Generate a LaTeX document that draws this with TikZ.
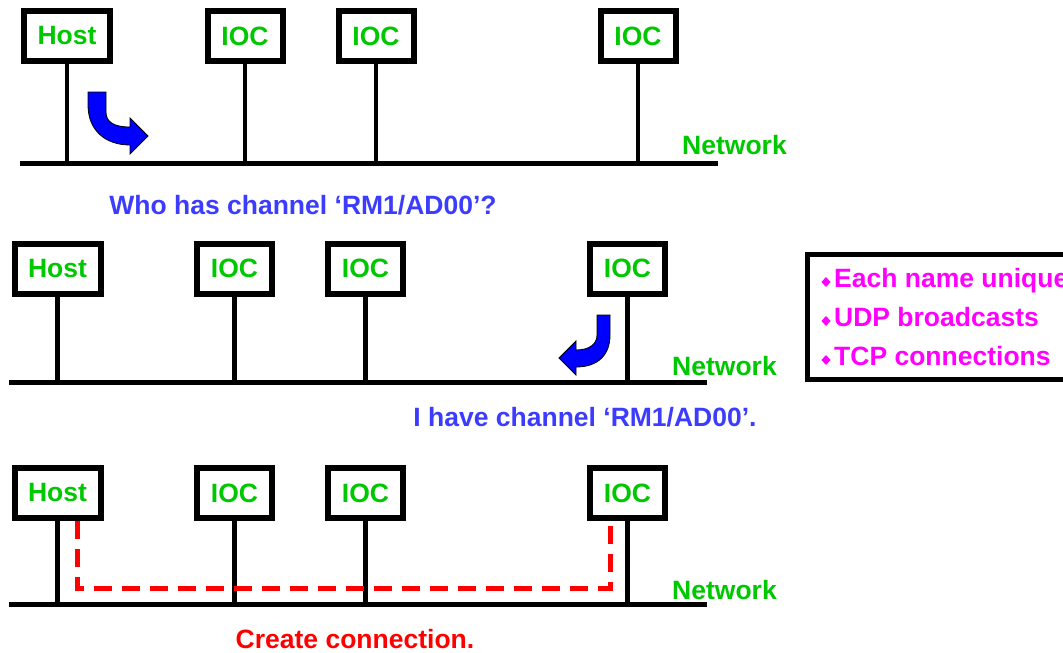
\documentclass[tikz,border=0pt]{standalone}
\usepackage{fontspec}
\setmainfont{Liberation Sans}
\definecolor{lblgreen}{RGB}{0,200,0}
\definecolor{msgblue}{RGB}{60,60,255}
\definecolor{arrowblue}{RGB}{0,0,255}
\definecolor{connred}{RGB}{255,0,0}
\definecolor{notemag}{RGB}{255,0,255}
\newcommand{\bigbold}{\bfseries\fontsize{26.5}{31}\selectfont}
\tikzset{
  station/.style={draw, line width=6pt, fill=white, minimum height=50pt,
    inner sep=0pt, text=lblgreen, font=\bigbold},
  hostbox/.style={station, minimum width=86pt},
  iocbox/.style={station, minimum width=75pt},
  bus/.style={line width=5pt},
  drop/.style={line width=4.5pt},
  netlabel/.style={text=lblgreen, font=\bigbold, anchor=base west, inner sep=0pt},
  msg/.style={font=\bigbold, anchor=base, inner sep=0pt},
  notetext/.style={text=notemag, font=\bigbold, anchor=base west, inner sep=0pt},
  conn/.style={draw=connred, line width=5pt, dash pattern=on 18pt off 10pt, line join=miter},
  turn/.style={fill=arrowblue, draw=black, line width=0.8pt, line join=miter}
}
\begin{document}
\begin{tikzpicture}[x=1pt,y=-1pt]
\useasboundingbox (0,0) rectangle (1063,653);

% ---------- first row: the host broadcasts a search ----------
\coordinate (b1w) at (20,163);
\coordinate (b1e) at (718,163);
\node[hostbox] (h1)  at (67,36)  {Host};
\node[iocbox]  (i11) at (245,36) {IOC};
\node[iocbox]  (i12) at (376,36) {IOC};
\node[iocbox]  (i13) at (638,36) {IOC};
\draw[bus] (b1w) -- (b1e);
\foreach \n in {h1,i11,i12,i13} \draw[drop] (\n.south) -- (\n.south |- b1w);
\node[netlabel] (net1) at (682,154) {Network};
\draw[turn] (88,92) -- (106,92) -- (106,112)
  .. controls (106,122) and (114,127) .. (130,127) -- (130,118) -- (148,136)
  -- (130,154) -- (130,145) .. controls (105,145) and (88,130) .. (88,105) -- cycle;
\node[msg, text=msgblue] (ask) at (303,214) {Who has channel ‘RM1/AD00’?};

% ---------- second row: one IOC answers ----------
\coordinate (b2w) at (9,382);
\coordinate (b2e) at (707,382);
\node[hostbox] (h2)  at (57.5,268.5)  {Host};
\node[iocbox]  (i21) at (234.5,268.5) {IOC};
\node[iocbox]  (i22) at (365.5,268.5) {IOC};
\node[iocbox]  (i23) at (627.5,268.5) {IOC};
\draw[bus] (b2w) -- (b2e);
\foreach \n in {h2,i21,i22,i23} \draw[drop] (\n.south) -- (\n.south |- b2w);
\node[netlabel] (net2) at (672,375) {Network};
\draw[turn] (597,315) -- (610,315) -- (610,335)
  .. controls (610,355) and (598,367) .. (576,367) -- (576,375) -- (559,358)
  -- (576,341) -- (576,350) .. controls (588,350) and (597,345) .. (597,335) -- cycle;
\node[msg, text=msgblue] (reply) at (585,426) {I have channel ‘RM1/AD00’.};

% ---------- third row: the direct connection ----------
\coordinate (b3w) at (9,604);
\coordinate (b3e) at (707,604);
\coordinate (c3) at (0,588);
\draw[bus] (b3w) -- (b3e);
\node[hostbox] (h3)  at (57.5,493)  {Host};
\node[iocbox]  (i31) at (234.5,493) {IOC};
\node[iocbox]  (i32) at (365.5,493) {IOC};
\node[iocbox]  (i33) at (627.5,493) {IOC};
\foreach \n in {h3,i31,i32,i33} \draw[drop] (\n.south) -- (\n.south |- b3w);
\coordinate (ca) at ([xshift=19.5pt]h3.south);
\coordinate (cb) at ([xshift=-17.5pt]i33.south);
\draw[conn] (ca) -- (ca |- c3) -- (cb |- c3) -- (cb);
% redraw the boxes so the dashed path starts at their lower edge
\node[hostbox] at (h3) {Host};
\node[iocbox]  at (i33) {IOC};
\node[netlabel] (net3) at (672,599) {Network};
\node[msg, text=connred] (make) at (355,648) {Create connection.};

% ---------- side note ----------
\begin{scope}
\clip (0,0) rectangle (1063,653);
\draw[line width=5pt] (807,254) rectangle (1090,379);
\foreach \y/\nm/\t in {287/notea/Each name unique, 326/noteb/UDP broadcasts, 365/notec/TCP connections}{
  \fill[notemag] (826,\y-10) -- (830.5,\y-5) -- (826,\y) -- (821.5,\y-5) -- cycle;
  \node[notetext] (\nm) at (834,\y) {\t};
}
\end{scope}
\end{tikzpicture}
\end{document}
